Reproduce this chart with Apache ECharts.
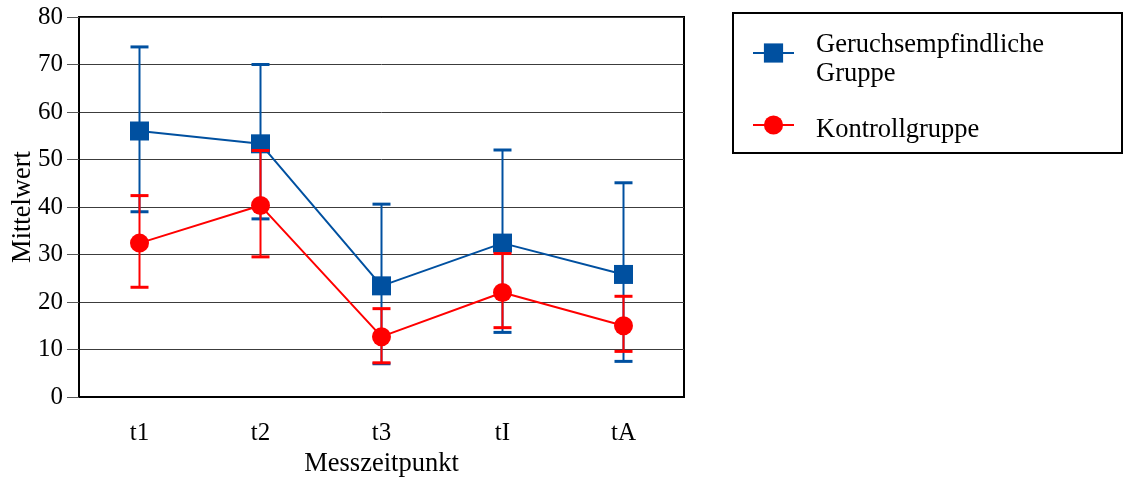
<!DOCTYPE html>
<html>
<head>
<meta charset="utf-8">
<script src="https://cdn.jsdelivr.net/npm/echarts@6/dist/echarts.min.js"></script>
<style>
  html, body { margin: 0; padding: 0; background: #fff; }
  #chart { width: 1123px; height: 477px; }
</style>
</head>
<body>
<div id="chart"></div>
<script>
// Messzeitpunkte
const categories = ['t1', 't2', 't3', 'tI', 'tA'];
const yTicks = [0, 10, 20, 30, 40, 50, 60, 70, 80];

// Geruchsempfindliche Gruppe: Mittelwert und Fehlerbalken (unten / oben)
const sensMean = [56.0, 53.3, 23.4, 32.4, 25.8];
const sensLow  = [39.0, 37.5, 7.0, 13.6, 7.5];
const sensHigh = [73.7, 70.0, 40.6, 52.0, 45.1];

// Kontrollgruppe: Mittelwert und Fehlerbalken (unten / oben)
const ctrlMean = [32.4, 40.3, 12.7, 22.0, 15.0];
const ctrlLow  = [23.1, 29.5, 7.2, 14.6, 9.6];
const ctrlHigh = [42.4, 51.9, 18.6, 30.2, 21.2];

const BLUE = '#0050a0';
const RED = '#ff0000';
const FONT = 'Liberation Serif';

function errorData(low, high) {
  return categories.map((c, i) => [i, low[i], high[i]]);
}

function errorSeries(name, low, high, color, z) {
  return {
    type: 'custom',
    name: name + ' SD',
    z: z,
    silent: true,
    data: errorData(low, high),
    encode: { x: 0, y: [1, 2] },
    renderItem: function (params, api) {
      const lo = api.coord([api.value(0), api.value(1)]);
      const hi = api.coord([api.value(0), api.value(2)]);
      const half = 9;
      return {
        type: 'group',
        children: [
          { type: 'line', shape: { x1: lo[0], y1: lo[1], x2: hi[0], y2: hi[1] },
            style: { stroke: color, lineWidth: 2 } },
          { type: 'line', shape: { x1: lo[0] - half, y1: lo[1], x2: lo[0] + half, y2: lo[1] },
            style: { stroke: color, lineWidth: 3 } },
          { type: 'line', shape: { x1: hi[0] - half, y1: hi[1], x2: hi[0] + half, y2: hi[1] },
            style: { stroke: color, lineWidth: 3 } }
        ]
      };
    }
  };
}

const chart = echarts.init(document.getElementById('chart'), null, { renderer: 'canvas' });

chart.setOption({
  animation: false,
  backgroundColor: '#fff',
  textStyle: { fontFamily: FONT, color: '#000' },
  grid: {
    left: 79, right: 439, top: 17, bottom: 80,
    outerBoundsMode: 'none',
    containLabel: false,
    show: true, borderColor: '#000', borderWidth: 2, backgroundColor: 'transparent'
  },
  legend: {
    data: ['Geruchsempfindliche Gruppe', 'Kontrollgruppe'],
    orient: 'vertical',
    left: 752, top: 22,
    padding: 0,
    itemGap: 20.5,
    itemWidth: 41,
    itemHeight: 24,
    selectedMode: false,
    // a thin spacer line above each entry sets the text slightly below the symbol
    formatter: function (n) {
      const parts = n.split(' ');
      if (parts.length > 1) {
        return '{s1| }\n' + parts.map(p => '{a|' + p + '}').join('\n');
      }
      return '{s2| }\n{a|' + n + '}';
    },
    textStyle: {
      fontFamily: FONT, fontSize: 26.5, color: '#000', padding: [0, 0, 0, 17],
      rich: {
        a: { fontFamily: FONT, fontSize: 26.5, lineHeight: 29, color: '#000' },
        s1: { fontSize: 4, lineHeight: 14 },
        s2: { fontSize: 4, lineHeight: 10 }
      }
    }
  },
  graphic: [{
    type: 'rect',
    shape: { x: 733, y: 13, width: 389, height: 140 },
    style: { fill: 'none', stroke: '#000', lineWidth: 2 },
    z: 0
  }],
  xAxis: {
    type: 'category',
    data: categories,
    boundaryGap: true,
    name: 'Messzeitpunkt',
    nameLocation: 'middle',
    nameGap: 54,
    nameMoveOverlap: false,
    nameTextStyle: { fontFamily: FONT, fontSize: 26.5, color: '#000' },
    axisLine: { show: true, lineStyle: { color: '#000', width: 2 } },
    axisTick: { show: false },
    axisLabel: { fontFamily: FONT, fontSize: 25, color: '#000', margin: 24 },
    splitLine: { show: false }
  },
  yAxis: {
    type: 'value',
    min: yTicks[0],
    max: yTicks[yTicks.length - 1],
    interval: 10,
    name: 'Mittelwert',
    nameLocation: 'middle',
    nameGap: 42,
    nameMoveOverlap: false,
    nameTextStyle: { fontFamily: FONT, fontSize: 26.5, color: '#000' },
    axisLine: { show: true, lineStyle: { color: '#000', width: 2 } },
    axisTick: { show: true, inside: false, length: 12, lineStyle: { color: '#555', width: 1 } },
    axisLabel: { fontFamily: FONT, fontSize: 25, color: '#000', margin: 16 },
    splitLine: { show: true, lineStyle: { color: '#3c3c3c', width: 1 } }
  },
  series: [
    errorSeries('Geruchsempfindliche Gruppe', sensLow, sensHigh, BLUE, 2),
    {
      type: 'line',
      name: 'Geruchsempfindliche Gruppe',
      data: sensMean,
      z: 3,
      symbol: 'rect',
      symbolSize: 19,
      itemStyle: { color: BLUE },
      lineStyle: { color: BLUE, width: 2 }
    },
    errorSeries('Kontrollgruppe', ctrlLow, ctrlHigh, RED, 4),
    {
      type: 'line',
      name: 'Kontrollgruppe',
      data: ctrlMean,
      z: 5,
      symbol: 'circle',
      symbolSize: 19,
      itemStyle: { color: RED },
      lineStyle: { color: RED, width: 2 }
    }
  ]
});
</script>
</body>
</html>
